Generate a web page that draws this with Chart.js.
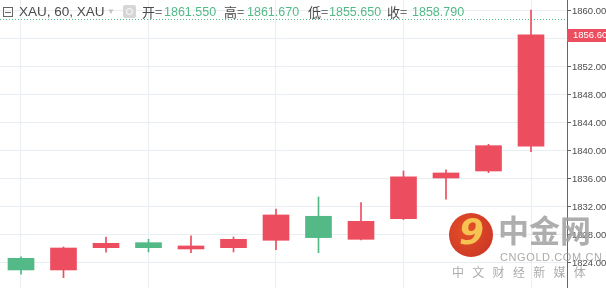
<!DOCTYPE html>
<html lang="zh">
<head>
  <meta charset="UTF-8">
  <title>XAU, 60</title>
  <style>
    html, body {
      margin: 0;
      padding: 0;
      width: 606px;
      height: 288px;
      overflow: hidden;
      background: #fff;
      font-family: "Liberation Sans", Arial, sans-serif;
    }
    #wrap {
      position: relative;
      width: 606px;
      height: 300px;
    }
    #wrap canvas {
      position: absolute;
      left: 0;
      top: 0;
    }
    .hd {
      position: absolute;
      top: 4px;
      line-height: 16px;
      font-size: 13px;
      color: #4a4a4a;
      white-space: nowrap;
    }
    .hd.val {
      color: #53b987;
      font-size: 12.5px;
    }
    .hd.cjk {
      font-family: "Noto Sans CJK SC", sans-serif;
    }
    #collapse {
      position: absolute;
      left: 3px;
      top: 7px;
      width: 8px;
      height: 8px;
      border: 1px solid #666;
    }
    #collapse:after {
      content: "";
      position: absolute;
      left: 1px;
      right: 1px;
      top: 4px;
      height: 1px;
      background: #666;
    }
    #gear {
      position: absolute;
      left: 123px;
      top: 5px;
      width: 13px;
      height: 13px;
      border-radius: 2px;
      background: #d6d6d6;
    }
    #gear:after {
      content: "";
      position: absolute;
      left: 3px;
      top: 3px;
      width: 5px;
      height: 5px;
      border: 1px solid #fff;
      border-radius: 50%;
    }
    #logo {
      position: absolute;
      left: 449px;
      top: 213px;
      width: 44px;
      height: 44px;
      border-radius: 50%;
      background: radial-gradient(circle at 40% 40%, #e4481c, #c3261a);
      opacity: 0.95;
      overflow: hidden;
    }
    #logo span {
      position: absolute;
      left: 10px;
      top: -2px;
      font: bold italic 36px "DejaVu Sans", sans-serif;
      color: #f6c04a;
    }
    .wm {
      position: absolute;
      white-space: nowrap;
      color: rgba(150, 150, 150, 0.8);
    }
  </style>
</head>
<body>
  <div id="wrap">
    <canvas id="kline" width="606" height="300"></canvas>

    <div id="collapse"></div>
    <div class="hd" style="left:19px; font-size:13.5px;">XAU, 60, XAU</div>
    <div class="hd" style="left:107px; color:#c4c4c4; font-size:8px;">▼</div>
    <div id="gear"></div>
    <div class="hd cjk" style="left:142px;">开=</div>
    <div class="hd val" style="left:164px;">1861.550</div>
    <div class="hd cjk" style="left:224px;">高=</div>
    <div class="hd val" style="left:247px;">1861.670</div>
    <div class="hd cjk" style="left:308px;">低=</div>
    <div class="hd val" style="left:329px;">1855.650</div>
    <div class="hd cjk" style="left:387px;">收=</div>
    <div class="hd val" style="left:412px;">1858.790</div>

    <div id="logo"><span>9</span></div>
    <div class="wm" style="left:498px; top:206px; font:bold 31px 'Noto Sans CJK SC', sans-serif; color:rgba(160,160,160,0.85);">中金网</div>
    <div class="wm" style="left:500px; top:251px; font-size:11px; letter-spacing:0.6px;">CNGOLD.COM.CN</div>
    <div class="wm" style="left:452px; top:263px; font:12px 'Noto Sans CJK SC', sans-serif; letter-spacing:8.3px;">中文财经新媒体</div>
  </div>

  <script src="https://cdn.jsdelivr.net/npm/chart.js"></script>
  <script>
    // 60分钟K线 (XAU)
    const bars = [0, 1, 2, 3, 4, 5, 6, 7, 8, 9, 10, 11, 12];
    const opens  = [1824.67, 1823.00, 1826.19, 1826.90, 1826.00, 1826.19, 1827.24, 1830.67, 1827.38, 1830.33, 1836.14, 1837.14, 1840.67];
    const highs  = [1824.86, 1826.29, 1827.71, 1827.38, 1827.86, 1827.71, 1831.71, 1833.43, 1832.62, 1837.14, 1837.29, 1840.95, 1860.14];
    const lows   = [1822.40, 1821.90, 1825.53, 1825.57, 1825.47, 1825.57, 1825.90, 1825.47, 1827.30, 1830.20, 1833.10, 1836.90, 1839.90];
    const closes = [1823.00, 1826.14, 1826.81, 1826.19, 1826.43, 1827.38, 1830.86, 1827.62, 1829.95, 1836.29, 1836.86, 1840.76, 1856.60];
    const yTicks = [1820, 1824, 1828, 1832, 1836, 1840, 1844, 1848, 1852, 1856, 1860];
    const xGridBars = [0, 3, 6, 9, 12];
    const lastClose = 1856.60;
    const headerClose = 1858.79;

    const UP = '#ec4e5f';
    const DOWN = '#53b987';
    const colors = bars.map(i => closes[i] >= opens[i] ? UP : DOWN);
    const axisFont = '"Liberation Sans", Arial, sans-serif';

    // 最新价标签 + 收盘虚线
    const pricePlugin = {
      id: 'priceLine',
      beforeDatasetsDraw(chart) {
        const { ctx, chartArea, scales } = chart;
        const y = Math.round(scales.y.getPixelForValue(headerClose)) + 0.5;
        ctx.save();
        ctx.strokeStyle = DOWN;
        ctx.lineWidth = 1;
        ctx.setLineDash([1, 2]);
        ctx.beginPath();
        ctx.moveTo(chartArea.left, y);
        ctx.lineTo(chartArea.right, y);
        ctx.stroke();
        ctx.restore();
      },
      afterDraw(chart) {
        const { ctx, chartArea, scales } = chart;
        const y = Math.round(scales.y.getPixelForValue(lastClose));
        ctx.save();
        ctx.fillStyle = UP;
        ctx.fillRect(chartArea.right, y - 6, 40, 13);
        ctx.fillStyle = '#fff';
        ctx.font = '9.5px ' + axisFont;
        ctx.textBaseline = 'middle';
        ctx.fillText(lastClose.toFixed(2), chartArea.right + 6, y + 0.5);
        ctx.restore();
      }
    };

    new Chart(document.getElementById('kline'), {
      type: 'bar',
      data: {
        datasets: [
          {
            label: 'body',
            data: bars.map(i => ({ x: i, y: [opens[i], closes[i]] })),
            backgroundColor: colors,
            borderWidth: 0,
            barThickness: 26,
            minBarLength: 1
          },
          {
            label: 'wick',
            data: bars.map(i => ({ x: i, y: [lows[i], highs[i]] })),
            backgroundColor: colors,
            borderWidth: 0,
            barThickness: 1
          }
        ]
      },
      options: {
        responsive: false,
        animation: false,
        grouped: false,
        layout: { padding: 0 },
        plugins: {
          legend: { display: false },
          tooltip: { enabled: false }
        },
        scales: {
          x: {
            type: 'linear',
            min: -0.494,
            max: 12.847,
            offset: false,
            grid: { color: '#e8eef4', offset: false, drawTicks: false },
            border: { display: false },
            ticks: { display: false },
            afterBuildTicks: scale => {
              scale.ticks = xGridBars.map(v => ({ value: v }));
            },
            afterFit: scale => {
              scale.height = 0;
              scale.paddingLeft = 0;
              scale.paddingRight = 0;
            }
          },
          y: {
            position: 'right',
            min: 1818.71,
            max: 1861.57,
            grid: { color: '#e8eef4', tickColor: '#666', tickLength: 4 },
            border: { color: '#666' },
            ticks: {
              padding: 1,
              color: '#4d4d4d',
              font: { size: 9.5, family: axisFont },
              callback: v => Number(v).toFixed(2)
            },
            afterBuildTicks: scale => {
              scale.ticks = yTicks.map(v => ({ value: v }));
            },
            afterFit: scale => {
              scale.width = 39;
              scale.paddingTop = 0;
              scale.paddingBottom = 0;
            }
          }
        }
      },
      plugins: [pricePlugin]
    });
  </script>
</body>
</html>
